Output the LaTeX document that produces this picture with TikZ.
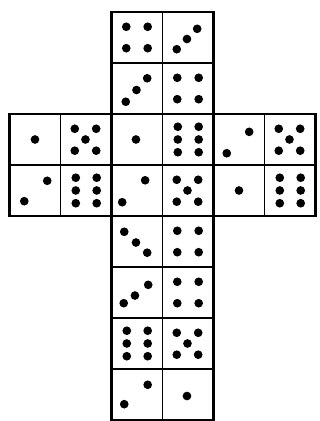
\documentclass[tikz,border=0pt]{standalone}
\usetikzlibrary{fit}

% pip patterns (x/y inside a unit cell, from its south west corner)
\newcommand{\dieone}{0.5/0.5}
\newcommand{\diefour}{0.29/0.29,0.29/0.71,0.71/0.29,0.71/0.71}
\newcommand{\diefive}{0.28/0.28,0.28/0.71,0.49/0.5,0.7/0.28,0.7/0.71}
\newcommand{\diesix}{0.3/0.25,0.3/0.5,0.3/0.75,0.71/0.25,0.71/0.5,0.71/0.75}
\newcommand{\pips}[2]{%
  \edef\piplist{#2}%
  \foreach \px/\py in \piplist
    {\fill ([shift={(\px,\py)}]#1.south west) circle[radius=0.085];}}

\begin{document}
\begin{tikzpicture}[
  cell/.style={draw,line width=0.75pt,minimum size=1cm,
               inner sep=0pt,outer sep=0pt},
  face/.style={draw,line width=1.2pt,inner sep=0pt,outer sep=0pt}
]
\useasboundingbox (-0.186,0.235) rectangle (6.078,-8.02);

% ---- cells ----
\foreach \r in {0,...,7}
  \foreach \c in {2,3}
    \node[cell] (c\c\r) at (\c+0.5,-\r-0.5) {};
\foreach \r in {2,3}
  \foreach \c in {0,1,4,5}
    \node[cell] (c\c\r) at (\c+0.5,-\r-0.5) {};

% ---- faces ----
\node[face,fit=(c20)(c31)] (top)    {};
\node[face,fit=(c02)(c13)] (left)   {};
\node[face,fit=(c22)(c33)] (front)  {};
\node[face,fit=(c42)(c53)] (right)  {};
\node[face,fit=(c24)(c35)] (bottom) {};
\node[face,fit=(c26)(c37)] (back)   {};

% ---- top face ----
\pips{c20}{\diefour}
\pips{c30}{0.28/0.27,0.48/0.47,0.68/0.67}
\pips{c21}{0.28/0.24,0.49/0.47,0.7/0.7}
\pips{c31}{\diefour}

% ---- middle band ----
\pips{c02}{\dieone}
\pips{c12}{\diefive}
\pips{c22}{0.48/0.5}
\pips{c32}{\diesix}
\pips{c42}{0.26/0.23,0.7/0.65}
\pips{c52}{\diefive}
\pips{c03}{0.29/0.29,0.74/0.69}
\pips{c13}{\diesix}
\pips{c23}{0.21/0.27,0.66/0.7}
\pips{c33}{\diefive}
\pips{c43}{\dieone}
\pips{c53}{\diesix}

% ---- lower faces ----
\pips{c24}{0.25/0.69,0.48/0.48,0.7/0.28}
\pips{c34}{\diefour}
\pips{c25}{0.24/0.29,0.46/0.44,0.72/0.65}
\pips{c35}{\diefour}
\pips{c26}{\diesix}
\pips{c36}{\diefive}
\pips{c27}{0.25/0.31,0.71/0.69}
\pips{c37}{0.48/0.47}

\end{tikzpicture}
\end{document}
